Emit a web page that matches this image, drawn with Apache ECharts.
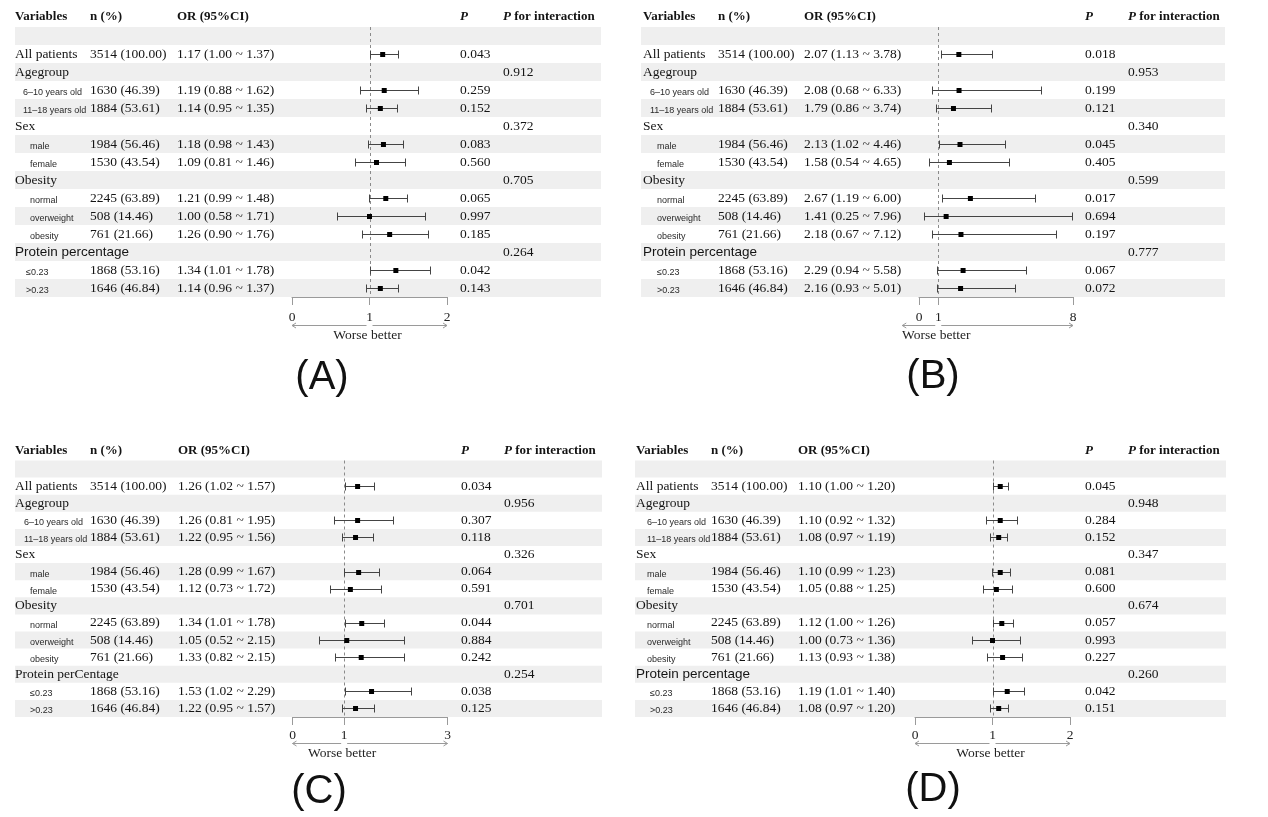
<!DOCTYPE html>
<html><head><meta charset="utf-8">
<script src="https://cdn.jsdelivr.net/npm/echarts@6/dist/echarts.min.js"></script>
<style>html,body{margin:0;padding:0;background:#fff}#c{width:1268px;height:817px}#err{position:absolute;left:0;top:400px;font:11px monospace;color:red;white-space:pre}</style>
</head><body><div id="c"></div><div id="err"></div>
<script>
// ---------------- DATA ----------------
const rowLabels = ['', 'All patients', 'Agegroup', '6–10 years old', '11–18 years old', 'Sex', 'male', 'female',
  'Obesity', 'normal', 'overweight', 'obesity', 'Protein percentage', '≤0.23', '>0.23'];
const rowLabelsC = ['', 'All patients', 'Agegroup', '6–10 years old', '11–18 years old', 'Sex', 'male', 'female',
  'Obesity', 'normal', 'overweight', 'obesity', 'Protein perCentage', '≤0.23', '>0.23'];
const rowKinds = ['blank', 'main', 'group', 'age', 'age', 'group', 'sub', 'sub', 'group', 'sub', 'sub', 'sub', 'prot', 'psub', 'psub'];
const nLabels = ['', '3514 (100.00)', '', '1630 (46.39)', '1884 (53.61)', '', '1984 (56.46)', '1530 (43.54)',
  '', '2245 (63.89)', '508 (14.46)', '761 (21.66)', '', '1868 (53.16)', '1646 (46.84)'];

const orA = [null, 1.17, null, 1.19, 1.14, null, 1.18, 1.09, null, 1.21, 1.00, 1.26, null, 1.34, 1.14];
const loA = [null, 1.00, null, 0.88, 0.95, null, 0.98, 0.81, null, 0.99, 0.58, 0.90, null, 1.01, 0.96];
const hiA = [null, 1.37, null, 1.62, 1.35, null, 1.43, 1.46, null, 1.48, 1.71, 1.76, null, 1.78, 1.37];
const pA = ['', '0.043', '', '0.259', '0.152', '', '0.083', '0.560', '', '0.065', '0.997', '0.185', '', '0.042', '0.143'];
const pIntA = ['', '', '0.912', '', '', '0.372', '', '', '0.705', '', '', '', '0.264', '', ''];

const orB = [null, 2.07, null, 2.08, 1.79, null, 2.13, 1.58, null, 2.67, 1.41, 2.18, null, 2.29, 2.16];
const loB = [null, 1.13, null, 0.68, 0.86, null, 1.02, 0.54, null, 1.19, 0.25, 0.67, null, 0.94, 0.93];
const hiB = [null, 3.78, null, 6.33, 3.74, null, 4.46, 4.65, null, 6.00, 7.96, 7.12, null, 5.58, 5.01];
const pB = ['', '0.018', '', '0.199', '0.121', '', '0.045', '0.405', '', '0.017', '0.694', '0.197', '', '0.067', '0.072'];
const pIntB = ['', '', '0.953', '', '', '0.340', '', '', '0.599', '', '', '', '0.777', '', ''];

const orC = [null, 1.26, null, 1.26, 1.22, null, 1.28, 1.12, null, 1.34, 1.05, 1.33, null, 1.53, 1.22];
const loC = [null, 1.02, null, 0.81, 0.95, null, 0.99, 0.73, null, 1.01, 0.52, 0.82, null, 1.02, 0.95];
const hiC = [null, 1.57, null, 1.95, 1.56, null, 1.67, 1.72, null, 1.78, 2.15, 2.15, null, 2.29, 1.57];
const pC = ['', '0.034', '', '0.307', '0.118', '', '0.064', '0.591', '', '0.044', '0.884', '0.242', '', '0.038', '0.125'];
const pIntC = ['', '', '0.956', '', '', '0.326', '', '', '0.701', '', '', '', '0.254', '', ''];

const orD = [null, 1.10, null, 1.10, 1.08, null, 1.10, 1.05, null, 1.12, 1.00, 1.13, null, 1.19, 1.08];
const loD = [null, 1.00, null, 0.92, 0.97, null, 0.99, 0.88, null, 1.00, 0.73, 0.93, null, 1.01, 0.97];
const hiD = [null, 1.20, null, 1.32, 1.19, null, 1.23, 1.25, null, 1.26, 1.36, 1.38, null, 1.40, 1.20];
const pD = ['', '0.045', '', '0.284', '0.152', '', '0.081', '0.600', '', '0.057', '0.993', '0.227', '', '0.042', '0.151'];
const pIntD = ['', '', '0.948', '', '', '0.347', '', '', '0.674', '', '', '', '0.260', '', ''];

const axisMaxes = [2, 8, 3, 2];
const tickA = [0, 1, 2], tickB = [0, 1, 8], tickC = [0, 1, 3], tickD = [0, 1, 2];
const panelTags = ['(A)', '(B)', '(C)', '(D)'];
const headerTexts = ['Variables', 'n (%)', 'OR (95%CI)', 'P', 'P for interaction'];
const arrowText = 'Worse better';
const refValue = 1;

// ---------------- LAYOUT / STYLE ----------------
const SERIF = '"Liberation Serif","Times New Roman",serif';
const SANS = '"Liberation Sans",Arial,sans-serif';
const BAND = '#efefef';
const TXT = '#141414';
const layouts = [
  {left: 15, bandLeft: 15, bandRight: 601, colN: 90, colOR: 177, colP: 460, colPI: 503, top: 27, rowH: 18,
   axL: 292, axR: 447, ageIn: 8, subIn: 15, psubIn: 11, protSerif: false, tagX: 322, tagY: 378, lblMargin: 13.5},
  {left: 643, bandLeft: 641, bandRight: 1225, colN: 718, colOR: 804, colP: 1085, colPI: 1128, top: 27, rowH: 18,
   axL: 919, axR: 1073, ageIn: 7, subIn: 14, psubIn: 14, protSerif: false, tagX: 933, tagY: 377, lblMargin: 13},
  {left: 15, bandLeft: 15, bandRight: 602, colN: 90, colOR: 178, colP: 461, colPI: 504, top: 460.5, rowH: 17.1,
   axL: 292.5, axR: 447.5, ageIn: 9, subIn: 15, psubIn: 15, protSerif: true, tagX: 319, tagY: 792, lblMargin: 11.5},
  {left: 636, bandLeft: 635, bandRight: 1226, colN: 711, colOR: 798, colP: 1085, colPI: 1128, top: 460.5, rowH: 17.1,
   axL: 915, axR: 1070, ageIn: 11, subIn: 11, psubIn: 14, protSerif: false, tagX: 933, tagY: 790, lblMargin: 11.5}
];

const panels = [
  {labels: rowLabels, or: orA, lo: loA, hi: hiA, p: pA, pint: pIntA, max: axisMaxes[0], ticks: tickA},
  {labels: rowLabels, or: orB, lo: loB, hi: hiB, p: pB, pint: pIntB, max: axisMaxes[1], ticks: tickB},
  {labels: rowLabelsC, or: orC, lo: loC, hi: hiC, p: pC, pint: pIntC, max: axisMaxes[2], ticks: tickC},
  {labels: rowLabels, or: orD, lo: loD, hi: hiD, p: pD, pint: pIntD, max: axisMaxes[3], ticks: tickD}
];

function txt(x, y, text, opts) {
  return {type: 'text', style: Object.assign({x: x, y: y, text: text, fill: TXT, fontFamily: SERIF, fontSize: 13.5,
    align: 'left', verticalAlign: 'middle'}, opts || {})};
}

function tableRenderer(P, L) {
  return function (params, api) {
    const i = params.dataIndex;
    const cs = params.coordSys;
    const h = L.rowH;
    const yc = api.coord([0.5, i])[1];
    const ch = [];
    if (i % 2 === 0) {
      ch.push({type: 'rect', shape: {x: cs.x, y: yc - h / 2, width: cs.width, height: h}, style: {fill: BAND}});
    }
    if (i === 0) {
      const hy = cs.y - 0.6 * h;
      const hb = {fontWeight: 'bold', fontSize: 13};
      ch.push(txt(L.left, hy, headerTexts[0], hb));
      ch.push(txt(L.colN, hy, headerTexts[1], hb));
      ch.push(txt(L.colOR, hy, headerTexts[2], hb));
      ch.push(txt(L.colP, hy, headerTexts[3], Object.assign({fontStyle: 'italic'}, hb)));
      ch.push(txt(L.colPI, hy, '{i|P} ' + headerTexts[4].slice(2), Object.assign({
        rich: {i: {fontStyle: 'italic', fontWeight: 'bold', fontSize: 13, fontFamily: SERIF}}}, hb)));
    }
    const kind = rowKinds[i];
    const lab = P.labels[i];
    if (kind === 'main' || kind === 'group') {
      ch.push(txt(L.left, yc, lab));
    } else if (kind === 'prot') {
      ch.push(txt(L.left, yc, lab, L.protSerif ? {} : {fontFamily: SANS, fontSize: 13.5}));
    } else if (kind === 'age' || kind === 'sub' || kind === 'psub') {
      const ind = kind === 'age' ? L.ageIn : (kind === 'sub' ? L.subIn : L.psubIn);
      ch.push(txt(L.left + ind, yc + 2.5, lab, {fontFamily: SANS, fontSize: 9, fill: '#2a2a2a'}));
    }
    if (nLabels[i]) ch.push(txt(L.colN, yc, nLabels[i]));
    if (P.or[i] != null) {
      ch.push(txt(L.colOR, yc, P.or[i].toFixed(2) + ' (' + P.lo[i].toFixed(2) + ' ~ ' + P.hi[i].toFixed(2) + ')'));
    }
    if (P.p[i]) ch.push(txt(L.colP, yc, P.p[i]));
    if (P.pint[i]) ch.push(txt(L.colPI, yc, P.pint[i]));
    return {type: 'group', children: ch};
  };
}

const CI = '#444';
function ciRenderer(params, api) {
  const row = api.value(3);
  const pt = api.coord([api.value(0), row]);
  const lo = api.coord([api.value(1), row]);
  const hi = api.coord([api.value(2), row]);
  const y = Math.round(pt[1]) + 0.5;
  const xl = Math.round(lo[0]) + 0.5, xh = Math.round(hi[0]) + 0.5;
  const cap = 4;
  const st = {stroke: CI, lineWidth: 1};
  return {type: 'group', children: [
    {type: 'line', shape: {x1: xl, y1: y, x2: xh, y2: y}, style: st},
    {type: 'line', shape: {x1: xl, y1: y - cap, x2: xl, y2: y + cap}, style: st},
    {type: 'line', shape: {x1: xh, y1: y - cap, x2: xh, y2: y + cap}, style: st},
    {type: 'rect', shape: {x: pt[0] - 2.5, y: y - 2.5, width: 5, height: 5}, style: {fill: '#000'}}
  ]};
}

function refRenderer(L) {
  return function (params, api) {
    const cs = params.coordSys;
    const x1 = api.coord([api.value(0), 0])[0];
    const xr = Math.round(x1) + 0.5;
    const xM = cs.x + cs.width;
    const yb = cs.y + cs.height;
    const ya = Math.round(yb + L.rowH * 1.53) + 0.5;
    const xl = Math.min(cs.x, x1 - 36);
    const st = {stroke: '#9a9a9a', lineWidth: 1, fill: 'none'};
    return {type: 'group', children: [
      {type: 'line', shape: {x1: xr, y1: cs.y, x2: xr, y2: yb}, style: {stroke: '#8a8a8a', lineWidth: 1, lineDash: [3, 3]}},
      {type: 'line', shape: {x1: x1 - 3, y1: ya, x2: xl, y2: ya}, style: st},
      {type: 'polyline', shape: {points: [[xl + 4, ya - 2.5], [xl, ya], [xl + 4, ya + 2.5]]}, style: st},
      {type: 'line', shape: {x1: x1 + 3, y1: ya, x2: xM, y2: ya}, style: st},
      {type: 'polyline', shape: {points: [[xM - 4, ya - 2.5], [xM, ya], [xM - 4, ya + 2.5]]}, style: st},
      txt(x1 - 2, yb + L.rowH * 2.12, arrowText, {align: 'center', fill: '#222'})
    ]};
  };
}

const grids = [], xAxes = [], yAxes = [], series = [], graphics = [];
panels.forEach(function (P, k) {
  const L = layouts[k];
  const H = L.rowH * P.labels.length;
  const cats = P.labels.map(function (s, i) { return 'r' + i; });
  const gT = grids.length;
  grids.push({left: L.bandLeft, top: L.top, width: L.bandRight - L.bandLeft, height: H, containLabel: false});
  xAxes.push({gridIndex: gT, type: 'value', min: 0, max: 1, show: false});
  yAxes.push({gridIndex: gT, type: 'category', data: cats, inverse: true, show: false});
  const gF = grids.length;
  grids.push({left: L.axL, top: L.top, width: L.axR - L.axL, height: H, containLabel: false});
  xAxes.push({gridIndex: gF, type: 'value', min: 0, max: P.max,
    axisLine: {show: true, onZero: false, lineStyle: {color: '#9a9a9a', width: 1}},
    axisTick: {show: true, length: 8, lineStyle: {color: '#9a9a9a'}, customValues: P.ticks},
    axisLabel: {show: true, customValues: P.ticks, margin: L.lblMargin, fontFamily: SERIF, fontSize: 13.5, color: '#222'},
    splitLine: {show: false}});
  yAxes.push({gridIndex: gF, type: 'category', data: cats, inverse: true, show: false});

  series.push({type: 'custom', xAxisIndex: gT, yAxisIndex: gT, z: 1, silent: true,
    dimensions: ['x', 'row'],
    data: cats.map(function (s, i) { return [0.5, i]; }), encode: {x: 'x', y: 'row'},
    renderItem: tableRenderer(P, L)});
  const ciData = [];
  P.or.forEach(function (v, i) { if (v != null) ciData.push([v, P.lo[i], P.hi[i], i]); });
  series.push({type: 'custom', xAxisIndex: gF, yAxisIndex: gF, z: 3, silent: true,
    dimensions: ['or', 'lo', 'hi', 'row'],
    data: ciData, encode: {x: ['or', 'lo', 'hi'], y: 'row'}, renderItem: ciRenderer});
  series.push({type: 'custom', xAxisIndex: gF, yAxisIndex: gF, z: 2, silent: true,
    dimensions: ['x', 'row'],
    data: [[refValue, 0]], encode: {x: 'x', y: 'row'}, renderItem: refRenderer(L)});
  graphics.push({type: 'text', x: L.tagX, y: L.tagY, silent: true,
    style: {text: panelTags[k], fontFamily: SANS, fontSize: 40, fill: '#111', align: 'center', verticalAlign: 'middle',
      textAlign: 'center', textVerticalAlign: 'middle'}});
});

try {
  const chart = echarts.init(document.getElementById('c'));
  chart.setOption({animation: false, backgroundColor: '#fff', grid: grids, xAxis: xAxes, yAxis: yAxes,
    series: series, graphic: graphics});
} catch (e) {
  document.getElementById('err').textContent = String(e && e.stack || e);
}
</script></body></html>
